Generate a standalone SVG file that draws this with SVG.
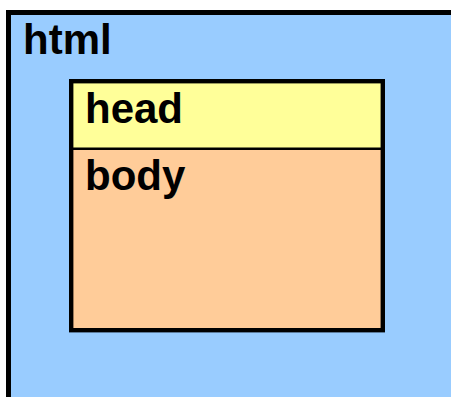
<svg xmlns="http://www.w3.org/2000/svg" width="451" height="397" viewBox="0 0 451 397">
<style>
.lbl{font-family:"Liberation Sans",Arial,sans-serif;font-weight:bold;font-size:42px;fill:#000}
.box{stroke:#000}
</style>
<rect width="451" height="397" fill="#fff"/>
<g id="html">
<rect class="box" x="8.5" y="12.5" width="460" height="400" fill="#99CCFF" stroke-width="5"/>
<text class="lbl" x="23" y="54">html</text>
</g>
<g id="body">
<rect x="71" y="149" width="312" height="181" fill="#FFCC99"/>
<text class="lbl" x="85" y="190">body</text>
</g>
<g id="head">
<rect x="71" y="81" width="312" height="68" fill="#FFFF99"/>
<text class="lbl" x="85" y="123">head</text>
</g>
<g id="frame">
<rect class="box" x="71.2" y="81.2" width="311.6" height="249" fill="none" stroke-width="4.4"/>
<line class="box" x1="71" y1="148.7" x2="383" y2="148.7" stroke-width="2.6"/>
</g>
<g id="connectors"></g>
</svg>
